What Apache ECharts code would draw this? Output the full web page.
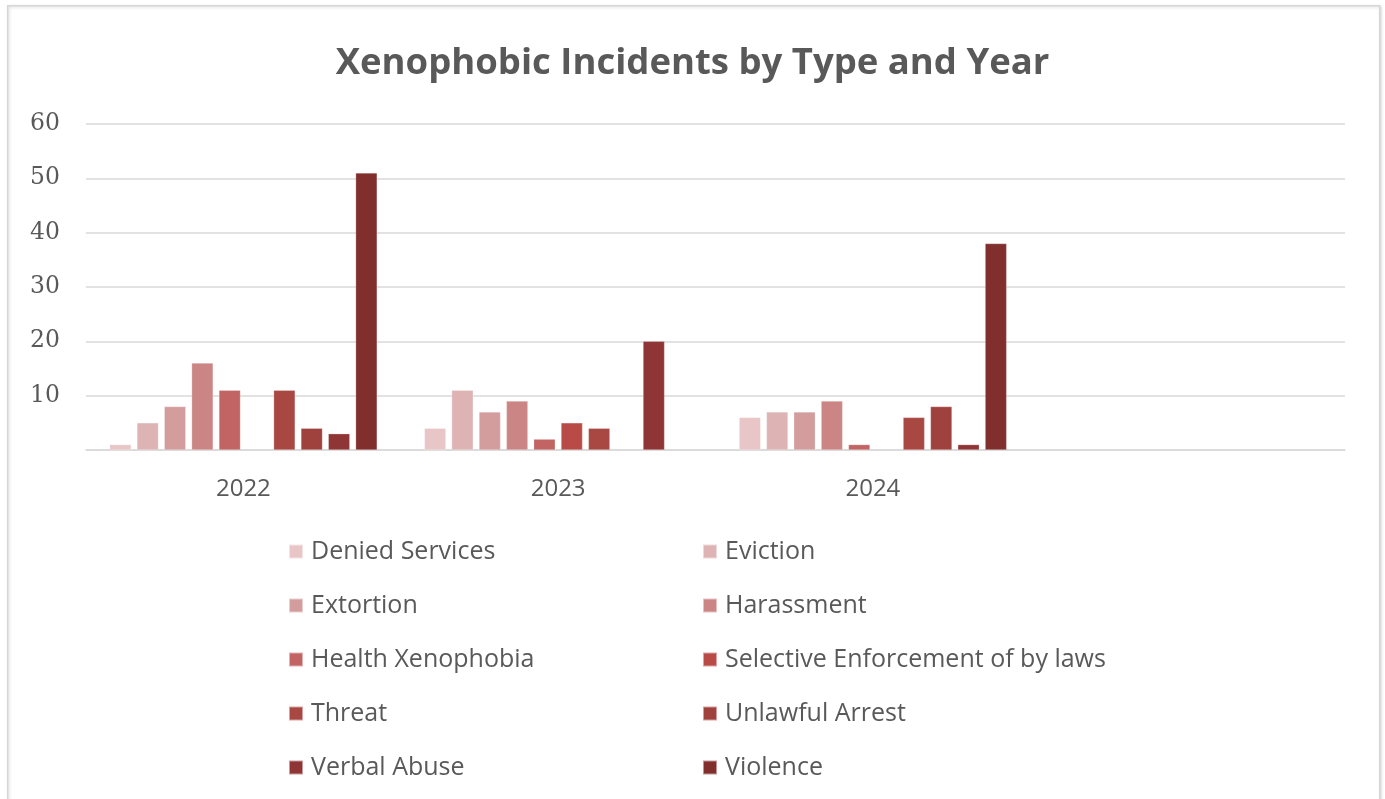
<!DOCTYPE html>
<html>
<head>
<meta charset="utf-8">
<script src="https://cdn.jsdelivr.net/npm/echarts@6/dist/echarts.min.js"></script>
<style>
html,body{margin:0;padding:0;background:#fff;}
#c{width:1385px;height:799px;}
</style>
</head>
<body>
<div id="c"></div>
<script>
var titleText = 'Xenophobic Incidents by Type and Year';
var years = ['2022', '2023', '2024', ''];
var seriesNames = ['Denied Services', 'Eviction', 'Extortion', 'Harassment', 'Health Xenophobia',
  'Selective Enforcement of by laws', 'Threat', 'Unlawful Arrest', 'Verbal Abuse', 'Violence'];
var deniedServices = [1, 4, 6, null];
var eviction = [5, 11, 7, null];
var extortion = [8, 7, 7, null];
var harassment = [16, 9, 9, null];
var healthXenophobia = [11, 2, 1, null];
var selectiveEnforcement = [null, 5, null, null];
var threat = [11, 4, 6, null];
var unlawfulArrest = [4, null, 8, null];
var verbalAbuse = [3, 20, 1, null];
var violence = [51, null, 38, null];
var seriesValues = [deniedServices, eviction, extortion, harassment, healthXenophobia,
  selectiveEnforcement, threat, unlawfulArrest, verbalAbuse, violence];
var colors = ['#e8c6c7', '#deb3b3', '#d39d9e', '#cc8585', '#c16463', '#b94b47', '#a94743', '#9f413d', '#8f3536', '#812f2d'];
var yTicks = [10, 20, 30, 40, 50, 60];

var chart = echarts.init(document.getElementById('c'));
var series = seriesNames.map(function (n, i) {
  return {
    name: n, type: 'bar', data: seriesValues[i],
    barGap: '27%', barCategoryGap: '15%',
    itemStyle: { color: colors[i], borderColor: 'rgba(255,255,255,0.5)', borderWidth: 0.5 }
  };
});
var legendText = { fontFamily: 'Open Sans', fontSize: 25, color: '#595959', lineHeight: 24, padding: [0, 0, 0, 3] };
chart.setOption({
  animation: false,
  color: colors,
  graphic: [{
    type: 'rect', left: 7, top: 5, z: -10,
    shape: { width: 1372, height: 810 },
    style: { fill: '#fff', stroke: '#d6d6d6', lineWidth: 1.5, shadowBlur: 3, shadowColor: 'rgba(0,0,0,0.15)', shadowOffsetX: 1, shadowOffsetY: 1 }
  }],
  title: {
    text: titleText, left: 'center', top: 40,
    textStyle: { fontFamily: 'Open Sans', fontWeight: 'bold', fontSize: 36.5, color: '#595959' }
  },
  grid: { left: 86, right: 40, top: 124, bottom: 349, containLabel: false },
  xAxis: {
    type: 'category', data: years,
    axisLine: { lineStyle: { color: '#d9d9d9', width: 1.5 } },
    axisTick: { show: false },
    axisLabel: { fontFamily: 'Open Sans', fontSize: 24, color: '#595959', margin: 27 }
  },
  yAxis: {
    type: 'value', min: 0, max: 60, interval: 10,
    axisLine: { show: false }, axisTick: { show: false },
    splitLine: { lineStyle: { color: '#d9d9d9', width: 1.5 } },
    axisLabel: {
      fontFamily: 'DejaVu Serif', fontSize: 23.5, color: '#595959', margin: 26, align: 'right',
      formatter: function (v) { return yTicks.indexOf(v) >= 0 ? String(v) : ''; }
    }
  },
  legend: [{
    data: [seriesNames[0], seriesNames[2], seriesNames[4], seriesNames[6], seriesNames[8]],
    orient: 'vertical', left: 288, top: 539, padding: 0, itemGap: 29, itemWidth: 14, itemHeight: 14,
    icon: 'rect', textStyle: legendText, selectedMode: false
  }, {
    data: [seriesNames[1], seriesNames[3], seriesNames[5], seriesNames[7], seriesNames[9]],
    orient: 'vertical', left: 702, top: 539, padding: 0, itemGap: 29, itemWidth: 14, itemHeight: 14,
    icon: 'rect', textStyle: legendText, selectedMode: false
  }],
  series: series
});
</script>
</body>
</html>
